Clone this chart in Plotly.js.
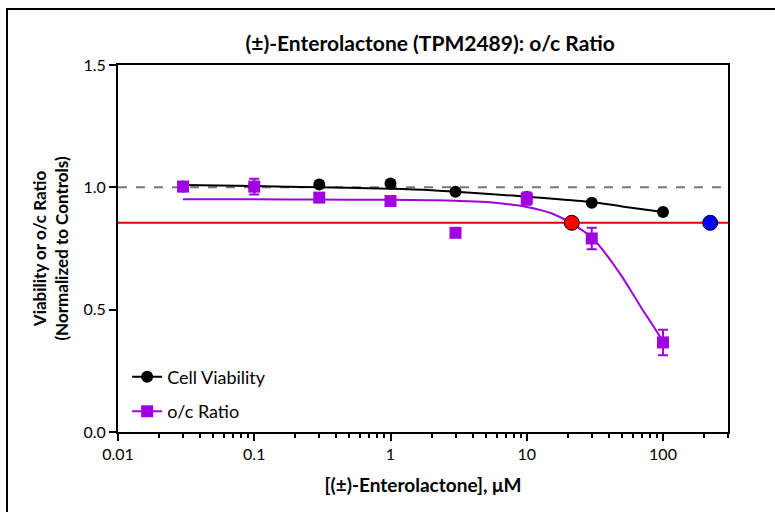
<!DOCTYPE html>
<html>
<head>
<meta charset="utf-8">
<script src="https://cdn.plot.ly/plotly-3.0.1.min.js"></script>
<style>
  html, body { margin:0; padding:0; background:#fff; }
  #chart { width:775px; height:512px; }
  #frame { position:absolute; left:6px; top:8px; width:800px; height:600px; border:2px solid #000; pointer-events:none; }
</style>
</head>
<body>
<div id="chart"></div>
<div id="frame"></div>
<script>
// Concentrations (µM)
const conc = [0.03, 0.1, 0.3, 1, 3, 10, 30, 100];
// Cell viability (normalized)
const viability = [1.003, 1.003, 1.012, 1.016, 0.982, 0.960, 0.937, 0.899];
// o/c ratio (normalized) with error
const ocRatio = [1.003, 1.003, 0.958, 0.944, 0.814, 0.954, 0.791, 0.366];
const ocErr = [0.0, 0.032, 0.0, 0.0, 0.0, 0.025, 0.044, 0.052];

// Fitted curves
const viabFitX = [0.03, 0.1, 0.3, 1, 2, 3, 5, 10, 20, 30, 50, 100];
const viabFitY = [1.010, 1.005, 1.000, 0.994, 0.988, 0.982, 0.974, 0.962, 0.948, 0.940, 0.922, 0.899];
const ocFitX = [0.03, 0.1, 0.3, 1, 2, 3, 5, 7, 10, 15, 21.4, 30, 40, 50, 60, 70, 80, 90, 100];
const ocFitY = [0.951, 0.951, 0.950, 0.949, 0.947, 0.945, 0.940, 0.932, 0.920, 0.895, 0.852, 0.795, 0.712, 0.635, 0.565, 0.504, 0.455, 0.411, 0.370];

// Reference markers
const thresholdY = 0.855;
const controlY = 1.0;
const redX = [21.4], redY = [0.855];
const blueX = [222], blueY = [0.855];

const xTickVals = [0.01, 0.1, 1, 10, 100];
const xTickText = ['0.01', '0.1', '1', '10', '100'];
const yTickVals = [0, 0.5, 1.0, 1.5];
const yTickText = ['0.0', '0.5', '1.0', '1.5'];

const purple = '#a000e0';
const FONT = 'Lato, "Open Sans", sans-serif';

const traces = [
  { x: viabFitX, y: viabFitY, mode: 'lines', line: {color:'#000', width:2, shape:'spline'}, showlegend:false, hoverinfo:'skip' },
  { x: ocFitX, y: ocFitY, mode: 'lines', line: {color:purple, width:2, shape:'spline'}, showlegend:false, hoverinfo:'skip' },
  { x: conc, y: viability, mode: 'markers', marker: {color:'#000', size:12, symbol:'circle'}, showlegend:false },
  { x: conc, y: ocRatio, mode: 'markers', marker: {color:purple, size:12, symbol:'square'},
    error_y: {type:'data', array: ocErr, visible:true, color:purple, thickness:2, width:5}, showlegend:false },
  { x: redX, y: redY, mode: 'markers', marker: {color:'#ff0000', size:15, line:{color:'#000', width:1}}, showlegend:false },
  { x: blueX, y: blueY, mode: 'markers', marker: {color:'#0000ff', size:15, line:{color:'#000', width:1}}, showlegend:false },
  // legend entries
  { x: [null], y: [null], mode: 'lines+markers', name: 'Cell Viability', legendgroup:'a',
    line: {color:'#000', width:2}, marker: {color:'#000', size:12, symbol:'circle'} },
  { x: [null], y: [null], mode: 'lines+markers', name: 'o/c Ratio', legendgroup:'b',
    line: {color:purple, width:2}, marker: {color:purple, size:12, symbol:'square'} }
];

const layout = {
  width: 775, height: 512,
  margin: {l:118, r:47, t:65, b:80},
  paper_bgcolor: '#fff', plot_bgcolor: '#fff',
  font: {family: FONT, color:'#000'},
  title: {text: '<b>(±)-Enterolactone (TPM2489): o/c Ratio</b>', font:{size:21, family:FONT}, x:0.555, xanchor:'center', y:0.915, yanchor:'middle'},
  xaxis: {
    type:'log', range:[Math.log10(0.01), Math.log10(300)],
    tickvals: xTickVals, ticktext: xTickText,
    ticks:'outside', ticklen:7, tickwidth:2, tickcolor:'#000',
    minor: {ticks:'outside', ticklen:4, tickwidth:2, tickcolor:'#000', dtick:'D1', showgrid:false},
    showline:true, linewidth:2, linecolor:'#000', mirror:true,
    showgrid:false, zeroline:false,
    tickfont:{size:16, family:FONT},
    title:{text:'<b>[(±)-Enterolactone], μM</b>', font:{size:19, family:FONT}, standoff:16}
  },
  yaxis: {
    range:[0, 1.5],
    tickvals: yTickVals, ticktext: yTickText,
    ticks:'outside', ticklen:7, tickwidth:2, tickcolor:'#000',
    showline:true, linewidth:2, linecolor:'#000', mirror:true,
    showgrid:false, zeroline:false,
    tickfont:{size:16, family:FONT},
    title:{text:'<b>Viability or o/c Ratio<br>(Normalized to Controls)</b>', font:{size:17, family:FONT}, standoff:10}
  },
  shapes: [
    {type:'line', xref:'paper', x0:0, x1:1, yref:'y', y0:controlY, y1:controlY, line:{color:'#777', width:2, dash:'dash'}, layer:'below'},
    {type:'line', xref:'paper', x0:0, x1:1, yref:'y', y0:thresholdY, y1:thresholdY, line:{color:'#e00000', width:2}, layer:'below'}
  ],
  legend: {x:0.015, y:0.2, xanchor:'left', yanchor:'top', bgcolor:'rgba(0,0,0,0)', font:{size:18, family:FONT},
           tracegroupgap:8, traceorder:'grouped', itemwidth:30},
  showlegend: true
};

Plotly.newPlot('chart', traces, layout, {displayModeBar:false, staticPlot:true});
</script>
</body>
</html>
